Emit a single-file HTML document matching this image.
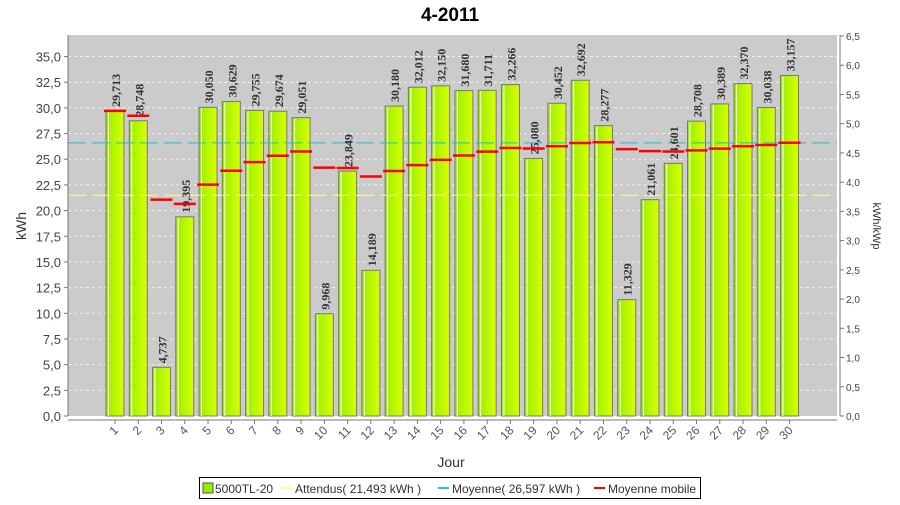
<!DOCTYPE html>
<html><head><meta charset="utf-8"><style>
body{margin:0;background:#fff;}
svg text{font-family:"Liberation Sans",sans-serif;}
svg text.vl{font-family:"Liberation Serif",serif;}
</style></head><body>
<svg id="chart" width="900" height="500" xmlns="http://www.w3.org/2000/svg">
<defs>
<linearGradient id="bg" x1="0" x2="1" y1="0" y2="0">
<stop offset="0" stop-color="#99ee00"/><stop offset="1" stop-color="#d8ff00"/>
</linearGradient>
</defs>
<text x="450" y="21" text-anchor="middle" font-size="19" font-weight="bold" fill="#000">4-2011</text>
<rect x="68" y="35" width="769" height="381" fill="#cbcbcb"/>
<g id="grid"></g>
<g id="bars"></g>
<g id="lines"></g>
<g id="axes"></g>
<text transform="translate(26,226) rotate(-90)" text-anchor="middle" font-size="14" fill="#333">kWh</text>
<text transform="translate(873,226) rotate(90)" text-anchor="middle" font-size="11" fill="#333">kWh/kWp</text>
<text x="451" y="467" text-anchor="middle" font-size="14" fill="#333">Jour</text>
<g>
<rect x="199.5" y="477.5" width="501" height="21" fill="#fff" stroke="#000"/>
<rect x="203" y="483" width="10" height="10" fill="#99ee00" stroke="#555"/>
<text x="215" y="493" font-size="12" fill="#333">5000TL-20</text>
<rect x="281" y="487" width="11" height="2" fill="#ffff88"/>
<text x="295" y="493" font-size="12" fill="#333">Attendus( 21,493 kWh )</text>
<rect x="438" y="487" width="11" height="2" fill="#22cccc"/>
<text x="452" y="493" font-size="12" fill="#333">Moyenne( 26,597 kWh )</text>
<rect x="594" y="487" width="11" height="2" fill="#ff0000"/>
<text x="608" y="493" font-size="12" fill="#333">Moyenne mobile</text>
</g>
</svg>
<script>
const days=["1","2","3","4","5","6","7","8","9","10","11","12","13","14","15","16","17","18","19","20","21","22","23","24","25","26","27","28","29","30"];
const production=[29.713,28.748,4.737,19.395,30.050,30.629,29.755,29.674,29.051,9.968,23.849,14.189,30.180,32.012,32.150,31.680,31.711,32.266,25.080,30.452,32.692,28.277,11.329,21.061,24.601,28.708,30.389,32.370,30.038,33.157];
const labels=["29,713","28,748","4,737","19,395","30,050","30,629","29,755","29,674","29,051","9,968","23,849","14,189","30,180","32,012","32,150","31,680","31,711","32,266","25,080","30,452","32,692","28,277","11,329","21,061","24,601","28,708","30,389","32,370","30,038","33,157"];
const movingAvg=[29.71,29.23,21.07,20.65,22.53,23.88,24.72,25.34,25.76,24.18,24.15,23.32,23.85,24.43,24.94,25.36,25.74,26.10,26.05,26.27,26.58,26.66,25.99,25.79,25.75,25.86,26.03,26.26,26.39,26.61];
const expected=21.493;
const average=26.597;
const yTicks=["0,0","2,5","5,0","7,5","10,0","12,5","15,0","17,5","20,0","22,5","25,0","27,5","30,0","32,5","35,0"];
const y2Ticks=["0,0","0,5","1,0","1,5","2,0","2,5","3,0","3,5","4,0","4,5","5,0","5,5","6,0","6,5"];

const NS="http://www.w3.org/2000/svg";
const X0=68,X1=837,Y0=416,YT=36;
const yMax=37.0,y2Max=6.5;
function y(v){return Y0-v*(Y0-YT)/yMax;}
function y2(v){return Y0-v*(Y0-YT)/y2Max;}
const step=23.26,first=115;
function xc(i){return first+i*step;}
function mk(tag,attrs,parent){const e=document.createElementNS(NS,tag);for(const k in attrs)e.setAttribute(k,attrs[k]);document.getElementById(parent).appendChild(e);return e;}

yTicks.forEach((t,i)=>{
  const v=i*2.5,yy=y(v);
  if(i>0){const g=mk('line',{x1:X0,x2:X1,y1:yy,y2:yy,stroke:'#f2f2f2','stroke-dasharray':'3,3','stroke-width':1},'grid');
  
  }
  const tk=mk('line',{x1:X0-4,x2:X0,y1:yy,y2:yy,stroke:'#777'},'axes');
  
  
  const tx=mk('text',{x:X0-7,y:yy+5,'text-anchor':'end','font-size':13,fill:'#444'},'axes');tx.textContent=t;
  
  
});
y2Ticks.forEach((t,i)=>{
  const yy=y2(i*0.5);
  const tk=mk('line',{x1:840,x2:844,y1:yy,y2:yy,stroke:'#777'},'axes');
  
  
  const tx=mk('text',{x:846,y:yy+4,'font-size':10,fill:'#444'},'axes');tx.textContent=t;
  
  
});
let a=mk('line',{x1:X0,x2:X0,y1:35,y2:Y0,stroke:'#777'},'axes');


a=mk('line',{x1:840,x2:840,y1:35,y2:Y0,stroke:'#777'},'axes');


a=mk('line',{x1:X0,x2:X1,y1:420,y2:420,stroke:'#777'},'axes');



let l=mk('line',{x1:X0,x2:X1,y1:y(expected),y2:y(expected),stroke:'#ffff88','stroke-width':1,'stroke-dasharray':'18,6'},'lines');


l=mk('line',{x1:X0,x2:X1,y1:y(average),y2:y(average),stroke:'#22bbcc','stroke-width':1,'stroke-dasharray':'18,6'},'lines');



days.forEach((d,i)=>{
  const cx=xc(i),v=production[i],top=y(v);
  const b=mk('rect',{x:cx-9,y:top,width:18,height:Y0-top,fill:'url(#bg)',stroke:'#777','stroke-width':1},'bars');
  
  
  const h=mk('line',{x1:cx-6.5,x2:cx-6.5,y1:top+1,y2:Y0,stroke:'#fff','stroke-width':1},'bars');
  
  
  const lb=mk('text',{class:'vl',transform:`translate(${cx+5},${top-4}) rotate(-90)`,'font-size':12,'font-weight':'bold',fill:'#333'},'lines');
  lb.textContent=labels[i];
  
  
  const m=mk('line',{x1:cx-11,x2:cx+11,y1:y(movingAvg[i]),y2:y(movingAvg[i]),stroke:'#ff0000','stroke-width':2.5},'lines');
  
  
  const tk=mk('line',{x1:cx,x2:cx,y1:420,y2:424,stroke:'#777'},'axes');
  
  
  const tx=mk('text',{transform:`translate(${cx+4},${431}) rotate(-45)`,'text-anchor':'end','font-size':12,fill:'#555'},'axes');
  tx.textContent=d;
  
  
});
</script>
</body></html>
